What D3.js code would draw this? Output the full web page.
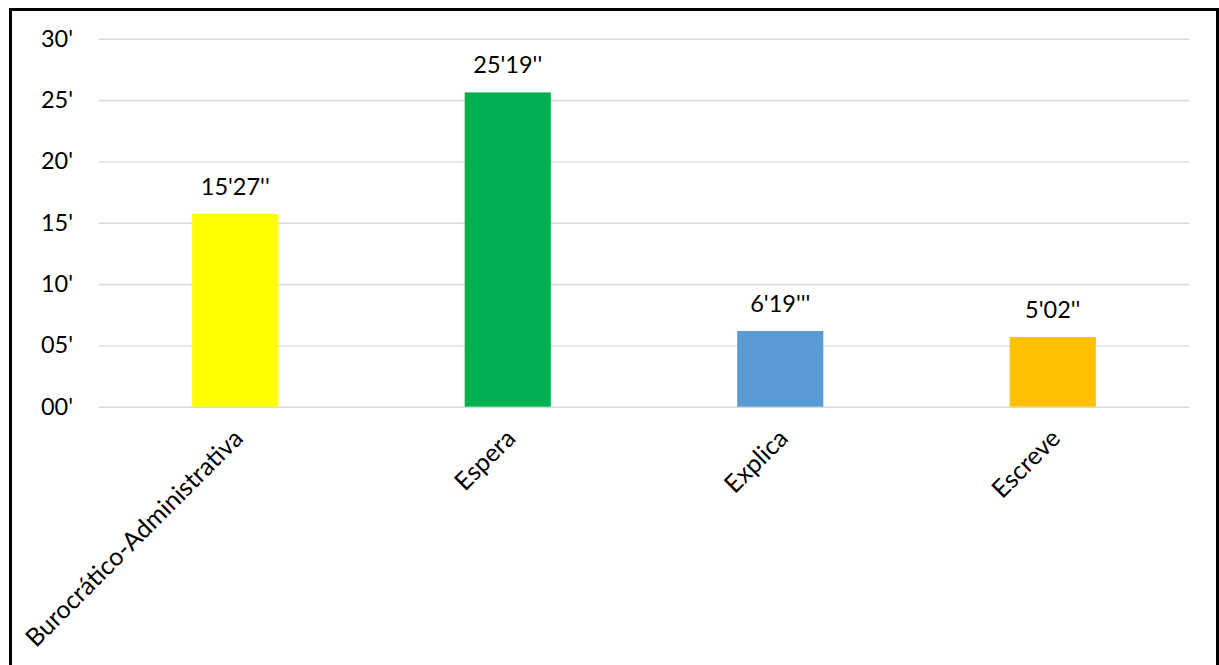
<!DOCTYPE html>
<html><head><meta charset="utf-8">
<script src="https://cdn.jsdelivr.net/npm/d3@7"></script>
<style>html,body{margin:0;padding:0;background:#fff;}svg{display:block;}</style>
</head><body>
<svg id="c" width="1219" height="665"></svg>
<script>
const categories = ["Burocrático-Administrativa", "Espera", "Explica", "Escreve"];
const values = [15.7, 25.62, 6.17, 5.68];
const valueLabels = ["15'27''", "25'19''", "6'19'''", "5'02''"];
const colors = ["#FFFF00", "#00B050", "#5B9BD5", "#FFC000"];
const yTicks = [0, 5, 10, 15, 20, 25, 30];
const yTickLabels = ["00'", "05'", "10'", "15'", "20'", "25'", "30'"];

(function () {
const svg = d3.select("#c");
const font = "Lato, 'Open Sans', sans-serif";
const fs = 23.5;

svg.append("rect").attr("x", 10.5).attr("y", 9.5).attr("width", 1207).attr("height", 700)
  .attr("fill", "#fff").attr("stroke", "#000").attr("stroke-width", 3);

const pL = 99, pR = 1189, pT = 38.7, pB = 406.7;
const x = d3.scaleBand().domain(categories).range([pL, pR]).paddingInner(0.684).paddingOuter(0.342);
const y = d3.scaleLinear().domain([0, 30]).range([pB, pT]);

const yAxis = d3.axisLeft(y).tickValues(yTicks).tickSize(-(pR - pL)).tickPadding(26)
  .tickFormat((d, i) => yTickLabels[i]);
const gy = svg.append("g").attr("transform", `translate(${pL},0)`).call(yAxis);
gy.select(".domain").remove();
gy.selectAll(".tick line").attr("stroke", "#d9d9d9").attr("stroke-width", 1.4);
gy.selectAll(".tick text").attr("font-family", font).attr("font-size", fs).attr("fill", "#000");

svg.append("g").selectAll("rect").data(values).join("rect")
  .attr("x", (d, i) => x(categories[i]))
  .attr("width", x.bandwidth())
  .attr("y", d => y(d))
  .attr("height", d => y(0) - y(d))
  .attr("fill", (d, i) => colors[i]);

svg.append("g").selectAll("text").data(values).join("text")
  .attr("x", (d, i) => x(categories[i]) + x.bandwidth() / 2)
  .attr("y", d => y(d) - 19)
  .attr("text-anchor", "middle")
  .attr("font-family", font).attr("font-size", fs).attr("fill", "#000")
  .text((d, i) => valueLabels[i]);

const xAxis = d3.axisBottom(x).tickSize(0).tickPadding(0);
const gx = svg.append("g").attr("transform", `translate(0,${pB})`).call(xAxis);
gx.select(".domain").remove();
gx.selectAll(".tick text")
  .attr("font-family", font).attr("font-size", 25).attr("fill", "#000")
  .attr("text-anchor", "end")
  .attr("y", 0).attr("dy", "0.35em")
  .attr("transform", "translate(3,27) rotate(-45)");
})();
</script>
</body></html>
